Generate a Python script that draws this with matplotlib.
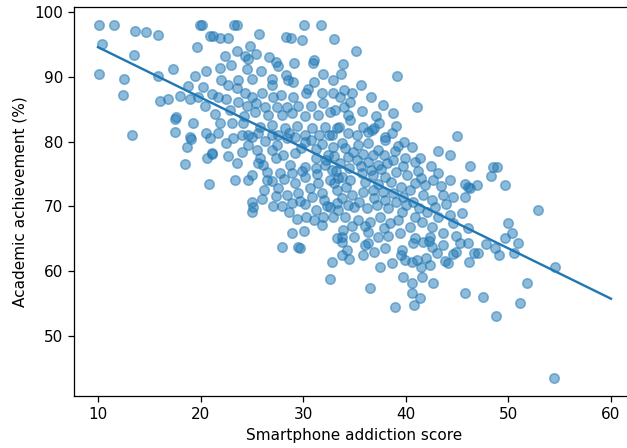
import numpy as np
import matplotlib

matplotlib.use("Agg")
import matplotlib.pyplot as plt

plt.rcParams["font.size"] = 9.6

# values (score, achievement)
addiction_score = [
    10.1, 11.6, 13.6, 14.7, 15.8, 10.4, 13.5, 17.3, 10.1, 12.5, 15.8, 12.4, 16.0, 16.8, 19.0,
    19.6, 19.9, 20.1, 20.9, 20.5, 19.5, 18.8, 17.5, 17.6, 13.3, 19.3, 20.4, 21.1, 19.7, 20.5,
    19.0, 17.5, 19.1, 18.7, 20.9, 20.6, 21.1, 18.5, 20.8,
    23.3, 23.5, 21.2, 21.9, 22.7, 25.7, 28.3, 28.8, 29.9, 30.1, 31.7, 33.0, 24.8, 23.5, 24.3,
    24.6, 25.4, 22.4, 26.7, 27.3, 27.5, 29.1, 31.1, 31.0, 21.9, 24.5, 25.9, 25.0, 23.6, 22.7,
    27.0, 27.0, 28.3, 28.5, 29.0, 31.1, 31.9, 32.9, 33.7, 23.5, 21.7, 24.3, 25.0, 26.0, 27.1,
    27.8, 29.0, 30.3, 30.5, 31.8, 32.9, 33.6, 22.5, 23.6, 25.4, 24.5, 26.3, 27.4, 28.4, 29.5,
    30.8, 31.9, 25.3, 26.6, 27.9, 28.9, 30.2, 31.4, 32.6, 21.9, 23.1, 24.1, 25.8, 27.0, 28.2,
    29.4, 30.9, 32.1, 33.3, 21.7, 24.6, 27.5, 30.2, 32.8,
    35.1, 39.1, 34.0, 34.8, 34.6, 33.1, 34.4, 34.6, 41.1, 38.8, 39.0, 37.4, 33.5, 35.8, 36.7,
    36.9, 36.3, 38.0, 34.4, 35.2, 45.0,
    46.3, 48.5, 48.9, 48.3, 49.7, 46.3, 46.9, 52.9, 50.0, 46.1, 50.4, 49.7, 50.9, 46.1, 48.7,
    49.1, 50.5, 46.6, 47.0, 46.2, 54.5, 45.8,
    51.8, 45.8, 47.5, 51.1, 48.8, 54.4,
    38.7, 41.5, 44.1, 43.8, 36.5, 39.7, 40.6, 41.6, 42.7, 40.6, 41.4, 38.9, 40.8, 41.1,
    32.8, 32.6,
    24.0, 25.0, 25.6, 27.0, 28.6, 29.2, 31.5, 32.5, 21.1, 22.7, 23.5, 24.6, 25.5, 25.8, 25.6,
    27.0, 27.3, 28.0, 27.4, 29.2, 28.7, 30.2, 31.2, 31.2, 32.2, 32.8, 33.6, 31.2, 30.2, 32.9,
    33.8, 25.0, 24.6, 23.4, 26.5, 26.5, 27.5, 27.7, 28.9, 29.2, 28.4, 29.5, 30.2, 30.7, 31.4,
    31.8, 32.6, 33.3, 33.8, 25.0, 25.1, 25.0, 27.1, 27.9, 28.9, 30.2, 31.2, 31.9, 31.8, 32.9,
    32.6, 33.4, 28.9, 30.1, 27.9, 29.5, 29.7, 33.3, 33.8, 33.8,
    38.0, 38.7, 39.2, 43.1, 44.3, 41.4, 40.9, 39.9, 38.8, 38.2, 37.3, 36.3, 35.2, 34.4, 34.1,
    35.3, 36.3, 37.3, 43.1, 44.3, 42.7, 41.9, 40.9, 40.1, 39.0, 38.0, 36.8, 35.7, 34.6, 33.4,
    46.1, 45.8, 44.6, 43.6, 42.6, 41.7, 40.7, 39.7, 38.8, 37.8, 36.8, 35.8, 34.8, 33.8, 35.0,
    36.2, 37.2, 38.3, 39.6, 40.9, 42.1, 43.1, 44.3, 45.5, 34.1, 35.3, 36.5, 37.5, 38.5, 40.4,
    42.6, 44.6, 33.9, 35.0, 36.3, 37.3, 38.3, 39.4, 40.9, 42.4, 43.6, 33.8, 36.3, 40.7, 41.7,
    42.6, 43.6, 45.3, 34.3, 35.8, 40.6, 43.0,
    29.8, 30.8, 31.8, 32.4, 33.0, 34.9, 35.8, 36.8, 37.9, 38.9, 39.8, 40.6, 42.5, 41.2,
    39.5, 37.3, 36.0, 34.2, 33.0, 32.0, 30.9, 29.7, 28.6, 27.3, 26.2, 26.0, 27.0, 28.1, 29.9,
    31.3, 32.1, 33.2, 34.5, 35.6, 36.6, 37.6, 38.6, 39.7, 40.4, 41.5, 43.4, 43.9, 42.8,
    41.3, 40.0, 39.0, 38.0, 36.9, 35.4, 34.4, 33.3, 32.3, 31.1, 30.3, 29.4, 34.8, 36.0, 37.9,
    39.2, 41.6, 42.3, 44.9, 39.6, 38.0, 36.9, 34.5, 37.5, 39.9, 44.6, 42.0,
    26.1, 24.0, 22.5, 23.2, 26.3, 28.4, 24.2, 22.9, 21.4, 34.0, 35.7, 36.6, 37.8, 35.6,
    33.9, 37.1,
    42.4, 44.9, 47.8, 39.5, 36.0, 22.0, 23.0, 20.2, 18.0,
]
achievement = [
    98.0, 98.0, 97.1, 96.9, 96.5, 95.1, 93.4, 91.2, 90.4, 89.7, 90.1, 87.2, 86.3, 86.6, 86.6,
    94.6, 98.0, 98.0, 96.3, 90.9, 90.1, 88.6, 83.5, 83.8, 81.0, 82.9, 85.5, 87.3, 86.9, 81.3,
    80.7, 81.5, 80.4, 79.2, 80.6, 77.5, 78.1, 76.5, 73.5,
    98.0, 98.0, 96.3, 96.0, 96.0, 96.6, 96.1, 96.0, 95.7, 98.0, 98.0, 95.8, 94.8, 94.0, 93.2,
    92.7, 93.5, 93.2, 93.1, 92.3, 91.7, 92.1, 92.6, 92.2, 91.4, 91.2, 90.9, 89.7, 89.5, 88.7,
    89.7, 88.7, 90.3, 89.5, 89.2, 89.2, 90.4, 89.5, 90.4, 88.3, 86.9, 87.5, 86.9, 87.5, 86.9,
    87.2, 86.9, 87.5, 88.1, 87.5, 87.5, 86.9, 86.6, 86.1, 85.9, 85.5, 85.3, 85.3, 85.3, 85.5,
    85.5, 85.9, 84.6, 84.1, 84.1, 84.4, 84.0, 84.1, 84.6, 82.9, 82.9, 82.9, 82.3, 82.6, 82.1,
    82.4, 82.1, 82.3, 82.1, 81.3, 81.0, 81.0, 81.0, 81.0,
    94.0, 90.1, 88.0, 87.5, 86.1, 84.9, 84.1, 83.3, 85.3, 84.4, 82.4, 82.9, 82.3, 82.3, 81.8,
    82.1, 81.5, 80.7, 81.3, 81.0, 80.9,
    76.2, 76.1, 76.1, 74.7, 73.3, 72.8, 73.3, 69.4, 67.4, 66.7, 65.9, 65.1, 64.4, 64.4, 63.6,
    62.5, 62.8, 62.8, 62.8, 61.4, 60.6, 73.4,
    58.2, 56.6, 56.0, 55.1, 53.1, 43.5,
    61.3, 60.6, 61.3, 61.6, 57.4, 59.1, 58.2, 59.1, 58.2, 56.6, 55.9, 54.5, 54.8, 61.7,
    61.4, 58.8,
    81.0, 80.7, 81.3, 81.0, 81.3, 80.7, 81.0, 81.0, 78.2, 77.8, 76.7, 79.5, 78.7, 77.5, 76.7,
    78.7, 77.5, 77.9, 79.5, 78.2, 76.4, 76.1, 77.5, 75.9, 77.2, 75.6, 76.7, 78.9, 79.9, 79.2,
    79.8, 74.8, 74.1, 74.1, 74.1, 75.3, 72.8, 75.2, 75.2, 73.6, 71.8, 72.1, 74.5, 72.8, 73.6,
    72.1, 74.1, 72.5, 74.6, 70.7, 69.9, 69.1, 70.1, 70.1, 70.5, 70.4, 69.4, 68.4, 67.1, 68.4,
    69.9, 69.4, 65.9, 66.2, 63.7, 63.7, 63.6, 65.1, 65.3, 62.5,
    80.2, 81.3, 79.3, 78.5, 77.9, 77.5, 76.9, 77.5, 77.2, 76.7, 76.4, 76.9, 77.2, 77.6, 79.0,
    79.5, 79.8, 78.7, 75.2, 74.1, 74.1, 73.3, 73.6, 74.8, 75.3, 74.5, 74.8, 75.2, 74.1, 74.4,
    73.0, 71.5, 71.5, 71.8, 71.0, 71.8, 70.7, 71.5, 72.1, 72.2, 72.5, 72.2, 71.8, 71.3, 69.9,
    69.8, 70.2, 69.8, 69.1, 68.4, 69.1, 68.4, 68.7, 69.0, 68.4, 67.9, 67.6, 68.4, 67.4, 66.8,
    66.8, 67.4, 66.4, 65.3, 66.0, 65.3, 65.4, 65.9, 65.1, 65.3, 65.9, 64.5, 64.4, 64.4, 64.5,
    63.7, 64.0, 64.4, 63.3, 62.5, 61.4, 62.8,
    79.0, 80.2, 79.6, 78.0, 77.8, 78.4, 78.1, 77.9, 78.0, 78.6, 79.9, 79.2, 76.3, 75.5,
    73.0, 73.4, 73.8, 73.0, 73.6, 71.0, 71.4, 70.9, 69.2, 71.6, 72.6, 71.2, 73.9, 74.3, 75.4,
    75.0, 76.4, 75.5, 75.9, 76.2, 75.6, 75.7, 73.7, 76.2, 72.6, 74.4, 73.2, 70.3, 69.9,
    69.8, 70.2, 70.6, 71.0, 71.3, 70.7, 70.2, 70.5, 70.0, 67.9, 68.4, 68.0, 66.9, 67.0, 66.6,
    67.9, 67.6, 64.6, 65.4, 63.2, 63.6, 62.9, 61.9, 60.6, 61.8, 62.6, 62.1,
    76.4, 78.4, 79.8, 80.6, 80.1, 80.6, 84.0, 84.8, 84.2, 85.4, 84.7, 86.9, 85.7, 88.8,
    92.0, 83.9,
    61.0, 63.0, 64.2, 62.5, 64.0, 89.5, 91.8, 88.5, 87.0,
]

x = np.array(addiction_score)
y = np.array(achievement)

fig = plt.figure(figsize=(5.5, 3.93), dpi=114)
ax = fig.add_axes([74.0 / 627, 52.3 / 448, 561.0 / 627, 388.4 / 448])

ax.scatter(x, y, alpha=0.5)

# least squares trend line
slope, intercept = np.polyfit(x, y, 1)
line_x = np.array([10, 60])
ax.plot(line_x, slope * line_x + intercept)

ax.set_xlim(7.66, 62.34)
ax.set_ylim(40.78, 100.73)
ax.set_xlabel("Smartphone addiction score")
ax.set_ylabel("Academic achievement (%)")

fig.savefig("out.png", dpi=114)
